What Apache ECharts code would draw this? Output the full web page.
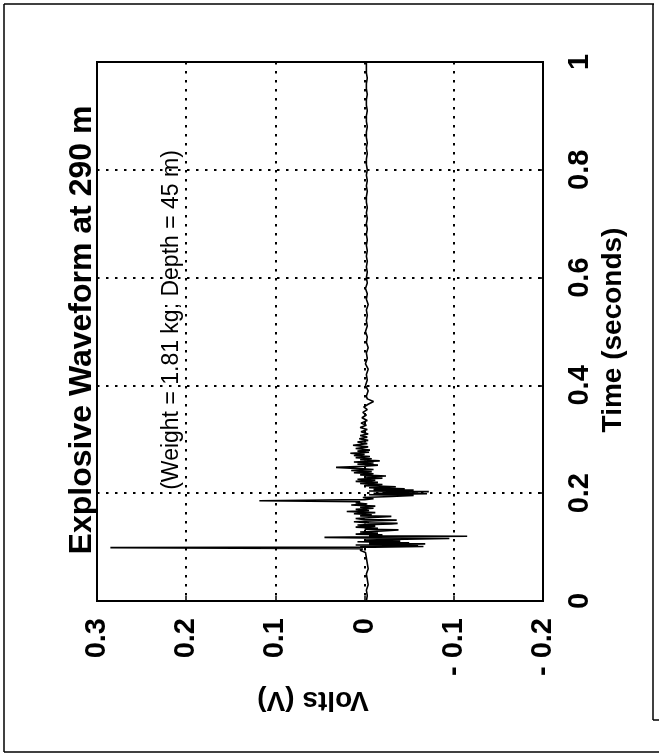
<!DOCTYPE html>
<html>
<head>
<meta charset="utf-8">
<script src="https://cdn.jsdelivr.net/npm/echarts@6/dist/echarts.min.js"></script>
<style>
html,body{margin:0;padding:0;background:#fff;}
#chart{width:659px;height:754px;}
</style>
</head>
<body>
<div id="chart"></div>
<script>
var timeSec = [
  0.000,0.010,0.020,0.030,0.040,0.050,0.060,0.070,0.080,0.090,0.094,0.097,
  0.099,0.100,0.101,0.102,0.103,0.104,0.106,0.107,0.108,0.110,0.111,0.113,
  0.114,0.116,0.117,0.118,0.119,0.120,0.121,0.123,0.124,0.126,0.128,0.130,
  0.132,0.133,0.135,0.137,0.139,0.141,0.143,0.144,0.145,0.147,0.149,0.150,
  0.151,0.153,0.155,0.157,0.158,0.160,0.162,0.164,0.166,0.168,0.170,0.172,
  0.174,0.176,0.178,0.180,0.182,0.184,0.186,0.188,0.190,0.192,0.194,0.196,
  0.197,0.199,0.200,0.201,0.202,0.203,0.204,0.206,0.207,0.208,0.210,0.212,
  0.214,0.216,0.218,0.220,0.222,0.224,0.226,0.228,0.230,0.232,0.234,0.236,
  0.238,0.240,0.242,0.244,0.246,0.248,0.250,0.252,0.254,0.256,0.258,0.260,
  0.262,0.264,0.266,0.268,0.270,0.272,0.274,0.276,0.278,0.280,0.283,0.286,
  0.289,0.292,0.295,0.298,0.301,0.304,0.307,0.310,0.314,0.318,0.322,0.326,
  0.330,0.335,0.340,0.345,0.350,0.355,0.360,0.365,0.370,0.375,0.380,
  0.39,0.40,0.41,0.42,0.43,0.44,0.45,0.46,0.47,0.48,0.49,0.50,0.51,0.52,0.53,
  0.54,0.55,0.56,0.57,0.58,0.59,0.60,0.61,0.62,0.63,0.64,0.65,0.66,0.67,0.68,
  0.69,0.70,0.71,0.72,0.73,0.74,0.75,0.76,0.77,0.78,0.79,0.80,0.81,0.82,0.83,
  0.84,0.85,0.86,0.87,0.88,0.89,0.90,0.91,0.92,0.93,0.94,0.95,0.96,0.97,0.98,
  0.99,1.00
];
var voltsV = [
  -0.002,-0.003,-0.002,-0.004,-0.003,-0.002,-0.004,-0.003,-0.002,-0.001,0.005,0.002,
  0.285,-0.010,-0.066,0.005,-0.060,0.010,-0.068,-0.005,-0.050,0.008,-0.040,0.000,
  -0.030,-0.095,0.000,0.045,-0.015,-0.115,-0.005,-0.020,0.010,-0.015,0.005,-0.020,
  -0.038,0.000,-0.015,0.010,-0.012,0.008,-0.030,-0.037,-0.005,0.012,-0.015,-0.036,
  0.000,0.010,-0.010,-0.030,0.005,-0.008,0.012,-0.012,0.020,-0.005,0.010,-0.010,
  0.005,-0.012,0.015,-0.003,0.010,0.005,0.118,0.000,-0.010,0.002,-0.030,-0.055,
  -0.005,-0.070,-0.010,-0.060,-0.020,-0.072,-0.005,-0.055,-0.010,-0.045,-0.005,-0.035,
  0.000,-0.020,0.005,-0.015,0.010,-0.012,0.008,-0.020,0.000,-0.024,0.005,-0.010,
  0.012,-0.008,0.015,-0.010,0.010,0.032,0.000,-0.015,0.008,-0.010,0.012,-0.017,
  0.005,-0.008,0.010,-0.006,0.012,0.000,0.016,-0.005,0.008,-0.006,0.010,-0.004,
  0.013,-0.003,0.008,-0.004,0.006,-0.003,0.005,-0.004,0.004,-0.003,0.005,-0.002,
  0.004,-0.003,0.003,-0.002,0.002,-0.003,0.001,-0.004,-0.010,-0.003,-0.002,
  -0.004,-0.001,-0.003,-0.002,-0.004,-0.001,-0.003,-0.002,-0.004,-0.002,-0.003,-0.001,-0.003,-0.002,-0.003,
  -0.002,-0.004,-0.002,-0.003,-0.001,-0.003,-0.002,-0.003,-0.002,-0.003,-0.002,-0.003,-0.002,-0.003,-0.002,
  -0.003,-0.002,-0.003,-0.002,-0.003,-0.002,-0.002,-0.003,-0.002,-0.003,-0.002,-0.003,-0.002,-0.002,-0.003,
  -0.002,-0.003,-0.002,-0.002,-0.003,-0.002,-0.002,-0.003,-0.002,-0.002,-0.003,-0.002,-0.002,-0.003,-0.002,
  -0.002,-0.002
];
var voltTicks = [-0.2, -0.1, 0, 0.1, 0.2, 0.3];
var timeTicks = [0, 0.2, 0.4, 0.6, 0.8, 1];
var titleText = 'Explosive Waveform at 290 m';
var noteText = '(Weight = 1.81 kg; Depth = 45 m)';
var xName = 'Volts (V)';
var yName = 'Time (seconds)';

var pts = timeSec.map(function (t, i) { return [voltsV[i], t]; });

function fmtVolt(v) {
  var r = Math.round(v * 10) / 10;
  if (Math.abs(r) < 1e-9) return '0';
  if (r < 0) return '- ' + Math.abs(r).toFixed(1);
  return r.toFixed(1);
}
function fmtTime(v) {
  var r = Math.round(v * 10) / 10;
  if (Math.abs(r) < 1e-9) return '0';
  if (Math.abs(r - 1) < 1e-9) return '1';
  return r.toFixed(1);
}

var chart = echarts.init(document.getElementById('chart'), null, {renderer: 'canvas'});
var FONT = '"Liberation Sans", Arial, Helvetica, sans-serif';
var gridStyle = {color: '#000', width: 2, type: [2.5, 6.5]};

chart.setOption({
  animation: false,
  backgroundColor: '#fff',
  grid: {left: 97, right: 116, top: 62, bottom: 153, show: true,
         borderColor: '#000', borderWidth: 2, backgroundColor: 'transparent'},
  xAxis: {
    type: 'value', min: voltTicks[0], max: voltTicks[voltTicks.length - 1], interval: 0.1,
    inverse: true, position: 'bottom',
    axisLine: {show: true, onZero: false, lineStyle: {color: '#000', width: 2}},
    axisTick: {show: true, inside: true, length: 5, lineStyle: {color: '#000', width: 1.5}},
    splitLine: {show: true, lineStyle: gridStyle},
    axisLabel: {rotate: 90, margin: 17, color: '#000', fontFamily: FONT, fontWeight: 'bold',
                fontSize: 29, formatter: fmtVolt}
  },
  yAxis: {
    type: 'value', min: timeTicks[0], max: timeTicks[timeTicks.length - 1], interval: 0.2,
    position: 'right',
    axisLine: {show: true, onZero: false, lineStyle: {color: '#000', width: 2}},
    axisTick: {show: true, inside: true, length: 5, lineStyle: {color: '#000', width: 1.5}},
    splitLine: {show: true, lineStyle: gridStyle},
    axisLabel: {rotate: 90, margin: 22, color: '#000', fontFamily: FONT, fontWeight: 'bold',
                fontSize: 29, formatter: fmtTime}
  },
  series: [{
    type: 'line', data: pts, showSymbol: false, symbol: 'none', sampling: null,
    lineStyle: {color: '#000', width: 1.6}, z: 5
  }],
  graphic: [
    {type: 'line', shape: {x1: 4, y1: 4, x2: 654, y2: 4}, style: {stroke: '#000', lineWidth: 1.5}},
    {type: 'line', shape: {x1: 4, y1: 4, x2: 4, y2: 752}, style: {stroke: '#000', lineWidth: 1.5}},
    {type: 'line', shape: {x1: 4, y1: 752, x2: 659, y2: 752}, style: {stroke: '#000', lineWidth: 1.5}},
    {type: 'line', shape: {x1: 653, y1: 4, x2: 653, y2: 720}, style: {stroke: '#000', lineWidth: 1.5}},
    {type: 'line', shape: {x1: 653, y1: 720, x2: 659, y2: 720}, style: {stroke: '#000', lineWidth: 1.5}},
    {type: 'text', x: 82, y: 330, rotation: Math.PI / 2,
     style: {text: titleText, fill: '#000', font: 'bold 32px ' + FONT, align: 'center', verticalAlign: 'middle'}},
    {type: 'text', x: 172, y: 320, rotation: Math.PI / 2,
     style: {text: noteText, fill: '#000', font: '23px ' + FONT, align: 'center', verticalAlign: 'middle'}},
    {type: 'text', x: 613, y: 330, rotation: Math.PI / 2,
     style: {text: yName, fill: '#000', font: 'bold 28px ' + FONT, align: 'center', verticalAlign: 'middle'}},
    {type: 'text', x: 313, y: 700, rotation: Math.PI,
     style: {text: xName, fill: '#000', font: 'bold 28px ' + FONT, align: 'center', verticalAlign: 'middle'}}
  ]
});
</script>
</body>
</html>
